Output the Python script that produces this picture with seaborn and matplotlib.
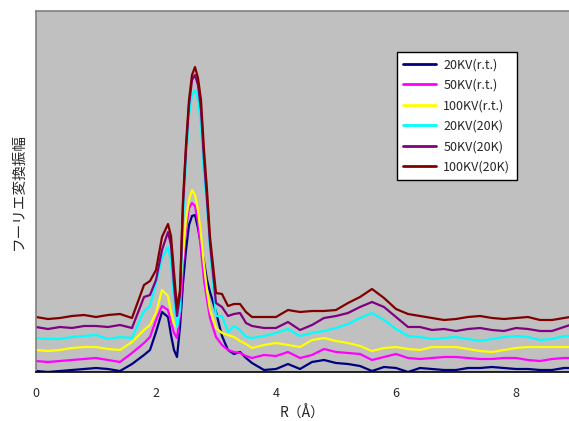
import numpy as np
import pandas as pd
import matplotlib
matplotlib.use("Agg")
import matplotlib.pyplot as plt
import seaborn as sns

# R grid (Å)
r_values = [0, 0.2, 0.4, 0.6, 0.8, 1.0, 1.2, 1.4, 1.6, 1.8, 1.9, 2.0, 2.1, 2.2, 2.25,
            2.3, 2.35, 2.4, 2.45, 2.5, 2.55, 2.6, 2.65, 2.7, 2.75, 2.8, 2.85, 2.9,
            3.0, 3.1, 3.2, 3.3, 3.4, 3.5, 3.6, 3.8, 4.0, 4.2, 4.4, 4.6, 4.8, 5.0,
            5.2, 5.4, 5.6, 5.8, 6.0, 6.2, 6.4, 6.6, 6.8, 7.0, 7.2, 7.4, 7.6, 7.8,
            8.0, 8.2, 8.4, 8.6, 8.8, 8.9]

# amplitudes (arbitrary units)
amp_20kv_rt = [1, 0, 1, 2, 3, 4, 3, 1, 8, 17, 22, 40, 60, 55, 37, 22, 15, 45, 89, 122,
               147, 156, 157, 144, 127, 110, 92, 80, 60, 36, 22, 18, 20, 14, 9, 2, 3,
               8, 3, 10, 12, 9, 8, 6, 1, 5, 4, 0, 4, 3, 2, 2, 4, 4, 5, 4, 3, 3, 2, 2, 4, 4]
amp_50kv_rt = [11, 10, 11, 12, 13, 14, 12, 10, 19, 29, 35, 52, 66, 62, 50, 39, 34, 57,
               107, 144, 164, 169, 166, 150, 122, 92, 72, 54, 35, 27, 22, 20, 19, 16,
               14, 17, 16, 20, 14, 17, 23, 20, 19, 18, 12, 15, 18, 14, 13, 14, 15, 15,
               14, 13, 13, 14, 14, 12, 11, 13, 14, 14]
amp_100kv_rt = [22, 21, 22, 24, 25, 25, 23, 22, 30, 42, 47, 59, 82, 76, 60, 48, 45, 82,
                117, 152, 172, 182, 177, 162, 137, 107, 82, 62, 44, 39, 37, 35, 31, 28,
                24, 27, 29, 27, 25, 32, 34, 31, 29, 26, 21, 24, 25, 23, 22, 25, 25, 25,
                23, 21, 20, 22, 24, 25, 25, 25, 25, 25]
amp_20kv_20k = [34, 33, 33, 35, 36, 37, 33, 35, 34, 61, 66, 89, 114, 125, 110, 72, 45,
                62, 152, 212, 257, 277, 282, 272, 247, 197, 167, 122, 56, 56, 40, 46,
                42, 35, 34, 36, 39, 43, 36, 39, 41, 44, 48, 54, 59, 52, 43, 36, 35, 33,
                34, 35, 33, 31, 33, 35, 36, 35, 32, 33, 36, 36]
amp_50kv_20k = [45, 43, 45, 44, 46, 46, 45, 47, 44, 75, 77, 92, 122, 140, 127, 87, 56,
                77, 167, 222, 267, 292, 297, 287, 262, 212, 172, 129, 69, 65, 56, 58,
                59, 49, 46, 44, 44, 50, 42, 47, 54, 56, 59, 65, 70, 65, 55, 45, 45, 42,
                43, 41, 43, 44, 42, 41, 44, 43, 41, 41, 45, 47]
amp_100kv_20k = [55, 53, 54, 56, 57, 55, 57, 58, 54, 87, 91, 102, 135, 148, 136, 100,
                 64, 82, 172, 227, 272, 297, 305, 294, 272, 222, 182, 135, 79, 78, 66,
                 68, 68, 60, 55, 55, 55, 62, 60, 61, 61, 62, 69, 75, 83, 74, 63, 58, 56,
                 54, 52, 53, 55, 56, 54, 53, 54, 55, 52, 52, 54, 55]

labels = ["20KV(r.t.)", "50KV(r.t.)", "100KV(r.t.)", "20KV(20K)", "50KV(20K)", "100KV(20K)"]
colors = ["#000080", "#FF00FF", "#FFFF00", "#00FFFF", "#800080", "#800000"]
series = [amp_20kv_rt, amp_50kv_rt, amp_100kv_rt, amp_20kv_20k, amp_50kv_20k, amp_100kv_20k]

x_ticks = [0, 2, 4, 6, 8]

frames = []
for lab, vals in zip(labels, series):
    frames.append(pd.DataFrame({"R": r_values, "amp": vals, "series": lab}))
df = pd.concat(frames, ignore_index=True)

sns.set_theme(style="white")
plt.rcParams["font.family"] = ["Noto Sans CJK JP", "DejaVu Sans"]

fig = plt.figure(figsize=(5.69, 4.21), dpi=100)
ax = fig.add_axes([36 / 569, 1 - 372 / 421, 1 - 36 / 569, (372 - 11) / 421])
ax.set_facecolor("#C0C0C0")

sns.lineplot(data=df, x="R", y="amp", hue="series", hue_order=labels,
             palette=dict(zip(labels, colors)), estimator=None, sort=False,
             linewidth=1.6, ax=ax)

ax.set_xlim(0, (569 - 36) / 60)
ax.set_ylim(0, 361)
ax.set_xticks(x_ticks)
ax.set_xticklabels([str(t) for t in x_ticks], fontsize=9)
ax.set_yticks([])
ax.tick_params(axis="x", direction="in", length=3, width=0.8, color="black", pad=11)

for side in ["top", "left"]:
    ax.spines[side].set_color("#808080")
    ax.spines[side].set_linewidth(1.2)
ax.spines["right"].set_visible(False)
ax.spines["bottom"].set_color("black")
ax.spines["bottom"].set_linewidth(1.2)

ax.set_xlabel("R（Å）", fontsize=10, labelpad=4)
ax.set_ylabel("フーリエ変換振幅", fontsize=10.5, labelpad=7)

leg = ax.legend(loc="upper left", bbox_to_anchor=((397 - 36) / 533, (372 - 52) / 361),
                borderaxespad=0, frameon=True, fancybox=False, fontsize=9,
                handlelength=2.6, labelspacing=0.6, borderpad=0.5, handletextpad=0.6)
leg.get_frame().set_edgecolor("black")
leg.get_frame().set_linewidth(1.0)
leg.get_frame().set_facecolor("white")
leg.get_frame().set_alpha(1)
for line in leg.get_lines():
    line.set_linewidth(2)

fig.savefig("out.png", dpi=100, facecolor="white")
